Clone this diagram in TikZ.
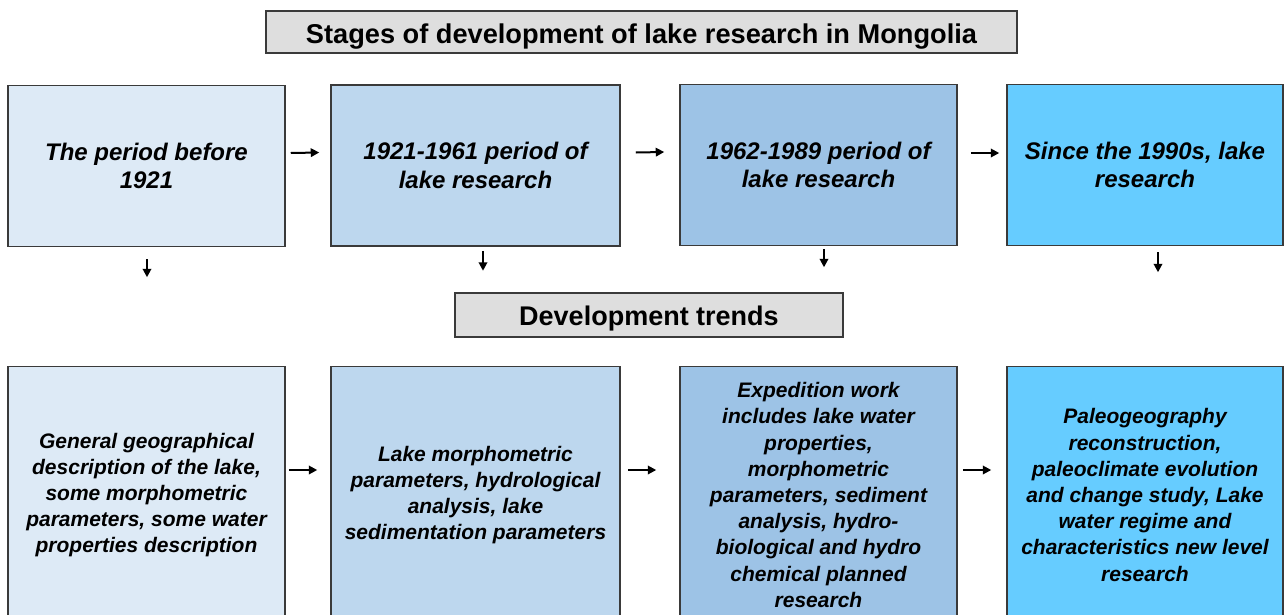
\documentclass[tikz,border=0pt]{standalone}
\usepackage{fontspec}
\setmainfont{Liberation Sans}
\usetikzlibrary{arrows.meta}
\definecolor{c1}{HTML}{DDEAF6}
\definecolor{c2}{HTML}{BDD7EE}
\definecolor{c3}{HTML}{9DC3E6}
\definecolor{c4}{HTML}{66CCFF}
\definecolor{hdr}{HTML}{DEDEDE}
\definecolor{edge}{HTML}{3A3A3A}
\begin{document}
\begin{tikzpicture}[x=1pt,y=-1pt,
  box/.style={draw=edge, line width=1.5pt, align=center, inner sep=0pt},
  topbox/.style={box, minimum height=161pt, font=\bfseries\itshape\fontsize{24}{28.5}\selectfont},
  botbox/.style={box, minimum height=257pt, font=\bfseries\itshape\fontsize{21}{26.2}\selectfont},
  header/.style={box, fill=hdr, line width=1.2pt, text depth=0pt},
  arr/.style={line width=2pt, -{Triangle[length=8.5pt,width=8.5pt]}}
]
\useasboundingbox (0,0) rectangle (1285,614);
\clip (0,0) rectangle (1285,614);

\node[header, minimum width=751pt, minimum height=42pt, text height=22pt, font=\bfseries\fontsize{27.2}{30}\selectfont] (title) at (641.5,32) {Stages of development of lake research in Mongolia};

\node[topbox, fill=c1, minimum width=277pt] (b1) at (146.5,166) {The period before\\1921};
\node[topbox, fill=c2, minimum width=289pt] (b2) at (475.5,165.5) {1921-1961 period of\\lake research};
\node[topbox, fill=c3, minimum width=277pt] (b3) at (818.5,165) {1962-1989 period of\\lake research};
\node[topbox, fill=c4, minimum width=276pt] (b4) at (1145,165) {Since the 1990s, lake\\research};

\node[header, minimum width=388pt, minimum height=44pt, text height=20pt, font=\bfseries\fontsize{27}{30}\selectfont] (dev) at (649,315) {Development trends};

\node[botbox, fill=c1, minimum width=277pt] (b5) at (146.5,495) {General geographical\\description of the lake,\\some morphometric\\parameters, some water\\properties description};
\node[botbox, fill=c2, minimum width=289pt] (b6) at (475.5,495) {Lake morphometric\\parameters, hydrological\\analysis, lake\\sedimentation parameters};
\node[botbox, fill=c3, minimum width=277pt] (b7) at (818.5,495) {Expedition work\\includes lake water\\properties,\\morphometric\\parameters, sediment\\analysis, hydro-\\biological and hydro\\chemical planned\\research};
\node[botbox, fill=c4, minimum width=276pt] (b8) at (1145,495) {Paleogeography\\reconstruction,\\paleoclimate evolution\\and change study, Lake\\water regime and\\characteristics new level\\research};

% horizontal arrows, top row
\draw[arr] ([xshift=5pt,yshift=13pt]b1.east) -- ([xshift=-11pt,yshift=13pt]b2.west);
\draw[arr] ([xshift=15pt,yshift=13pt]b2.east) -- ([xshift=-15pt,yshift=13pt]b3.west);
\draw[arr] ([xshift=13pt,yshift=12pt]b3.east) -- ([xshift=-7pt,yshift=12pt]b4.west);
% horizontal arrows, bottom row
\draw[arr] ([xshift=3pt,yshift=25pt]b5.east) -- ([xshift=-13pt,yshift=25pt]b6.west);
\draw[arr] ([xshift=7pt,yshift=25pt]b6.east) -- ([xshift=-23pt,yshift=25pt]b7.west);
\draw[arr] ([xshift=5pt,yshift=25pt]b7.east) -- ([xshift=-15pt,yshift=25pt]b8.west);

% downward arrows
\coordinate (d1s) at ([xshift=0.5pt,yshift=-12pt]b1.south);
\coordinate (d1e) at ([xshift=0.5pt,yshift=-30pt]b1.south);
\coordinate (d2s) at ([xshift=7.5pt,yshift=-4pt]b2.south);
\coordinate (d2e) at ([xshift=7.5pt,yshift=-24pt]b2.south);
\coordinate (d3s) at ([xshift=5.5pt,yshift=-3pt]b3.south);
\coordinate (d3e) at ([xshift=5.5pt,yshift=-21pt]b3.south);
\coordinate (d4s) at ([xshift=13pt,yshift=-6pt]b4.south);
\coordinate (d4e) at ([xshift=13pt,yshift=-26pt]b4.south);
\draw[arr] (d1s) -- (d1e);
\draw[arr] (d2s) -- (d2e);
\draw[arr] (d3s) -- (d3e);
\draw[arr] (d4s) -- (d4e);
\end{tikzpicture}
\end{document}
